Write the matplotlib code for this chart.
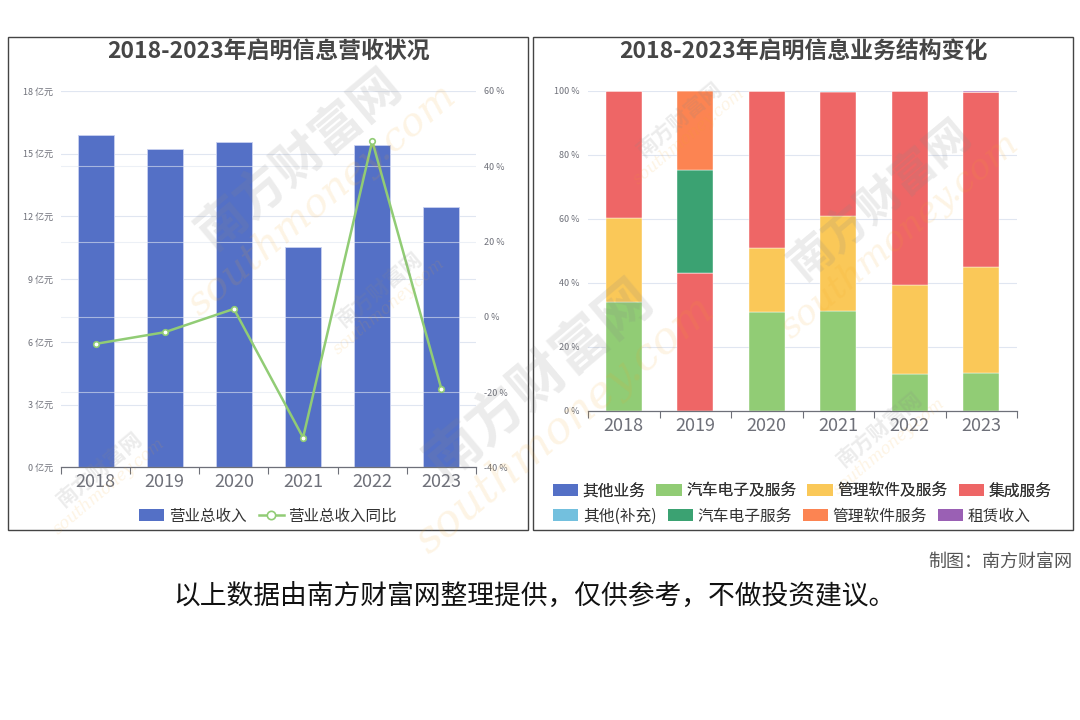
import numpy as np
import matplotlib
matplotlib.use("Agg")
import matplotlib.pyplot as plt
from matplotlib.patches import Rectangle
from matplotlib.lines import Line2D

plt.rcParams['font.family'] = ['Noto Sans CJK SC', 'DejaVu Sans']

# ---- data ------------------------------------------------------------------
years = ["2018", "2019", "2020", "2021", "2022", "2023"]
revenue = [15.90, 15.23, 15.55, 10.53, 15.42, 12.44]        # 亿元
revenue_yoy = [-7.2, -4.1, 2.1, -32.1, 46.7, -19.2]         # %

seg_names = ["其他业务", "汽车电子及服务", "管理软件及服务", "集成服务",
             "其他(补充)", "汽车电子服务", "管理软件服务", "租赁收入"]
seg_other = [0, 0, 0, 0, 0, 0]
seg_auto = [34.2, 0, 31.0, 31.2, 11.6, 11.8]
seg_soft = [26.0, 0, 19.8, 29.7, 27.9, 33.3]
seg_integ = [39.8, 43.0, 49.2, 38.9, 60.5, 54.7]
seg_other2 = [0, 0, 0, 0.2, 0, 0]
seg_auto2 = [0, 32.4, 0, 0, 0, 0]
seg_soft2 = [0, 24.6, 0, 0, 0, 0]
seg_lease = [0, 0, 0, 0, 0, 0.2]

PALETTE = ["#5470c6", "#91cc75", "#fac858", "#ee6666",
           "#73c0de", "#3ba272", "#fc8452", "#9a60b4"]
AXC = "#6E7079"
GRIDC = "#E0E6F1"
W, H = 1080, 720

def fx(px):
    return px / W

def fy(py):
    return 1 - py / H

fig = plt.figure(figsize=(10.8, 7.2), dpi=100)

# panel frames
for x0, x1 in [(8, 528), (533, 1073)]:
    fig.patches.append(Rectangle((fx(x0), fy(530)), fx(x1) - fx(x0), fy(37) - fy(530),
                                 transform=fig.transFigure, fill=False,
                                 ec="#444444", lw=1.0, zorder=0))

def style_cat_axis(ax, n):
    ax.set_xlim(-0.5, n - 0.5)
    ax.set_xticks(range(n))
    ax.set_xticklabels(years, fontsize=13, color=AXC)
    ax.set_xticks(np.arange(-0.5, n, 1.0), minor=True)
    ax.tick_params(axis="x", which="major", length=0, pad=4)
    ax.tick_params(axis="x", which="minor", length=5, color=AXC, width=0.8)
    for s in ["top", "left", "right"]:
        ax.spines[s].set_visible(False)
    ax.spines["bottom"].set_color(AXC)
    ax.spines["bottom"].set_linewidth(0.9)
    ax.spines["bottom"].set_zorder(5)

# ===========================================================================
# left: revenue + yoy
# ===========================================================================
x = np.arange(len(years))
ax = fig.add_axes([fx(61), fy(467.3), fx(476) - fx(61), fy(91) - fy(467.3)])
ax.bar(x, revenue, width=0.52, color=PALETTE[0], edgecolor="#c9d1f0", lw=0.6, zorder=2)
ax.set_ylim(0, 18)
ax.set_yticks(np.arange(0, 19, 3))
ax.set_yticklabels([f"{v} 亿元" for v in range(0, 19, 3)], fontsize=6.5, color=AXC)
ax.tick_params(axis="y", length=0, pad=6)
ax.grid(axis="y", color=GRIDC, lw=0.8, zorder=0)
ax.set_axisbelow(True)
style_cat_axis(ax, len(years))

ax2 = ax.twinx()
ax2.set_ylim(-40, 60)
ax2.set_yticks(np.arange(-40, 61, 20))
ax2.set_yticklabels([f"{v} %" for v in range(-40, 61, 20)], fontsize=6.5, color=AXC)
ax2.tick_params(axis="y", length=0, pad=6)
ax2.grid(axis="y", color=GRIDC, lw=0.8, alpha=0.6)
for s in ax2.spines.values():
    s.set_visible(False)
ax2.plot(x, revenue_yoy, color=PALETTE[1], lw=1.8, marker="o", ms=4,
         mfc="white", mec=PALETTE[1], mew=1.2, zorder=4)

fig.text(fx(268), fy(52), "2018-2023年启明信息营收状况", ha="center", va="center",
         fontsize=16.5, fontweight="bold", color="#464646")

h_left = [Rectangle((0, 0), 1, 1, fc=PALETTE[0]),
          Line2D([], [], color=PALETTE[1], lw=1.8, marker="o", ms=6,
                 mfc="white", mec=PALETTE[1], mew=1.2)]
fig.legend(h_left, ["营业总收入", "营业总收入同比"], loc="center",
           bbox_to_anchor=(fx(268), fy(516)), ncol=2, frameon=False, fontsize=11.2,
           labelcolor="#333333", handlelength=1.6, handleheight=0.8,
           handletextpad=0.3, columnspacing=0.8)

# ===========================================================================
# right: business structure (100 % stacked)
# ===========================================================================
series = [seg_other, seg_auto, seg_soft, seg_integ,
          seg_other2, seg_auto2, seg_soft2, seg_lease]
bx = fig.add_axes([fx(588), fy(411), fx(1017) - fx(588), fy(91) - fy(411)])
bottom = np.zeros(len(years))
handles = []
for name, vals, col in zip(seg_names, series, PALETTE):
    vals = np.asarray(vals, dtype=float)
    bx.bar(x, vals, width=0.5, bottom=bottom, color=col,
           edgecolor="white", lw=0.3, zorder=2, label=name)
    handles.append(Rectangle((0, 0), 1, 1, fc=col))
    bottom += vals
bx.set_ylim(0, 100)
bx.set_yticks(np.arange(0, 101, 20))
bx.set_yticklabels([f"{v} %" for v in range(0, 101, 20)], fontsize=6.5, color=AXC)
bx.tick_params(axis="y", length=0, pad=6)
bx.grid(axis="y", color=GRIDC, lw=0.8, zorder=0)
bx.set_axisbelow(True)
style_cat_axis(bx, len(years))

fig.text(fx(803), fy(52), "2018-2023年启明信息业务结构变化", ha="center", va="center",
         fontsize=16.5, fontweight="bold", color="#464646")

leg_kw = dict(loc="center", ncol=4, frameon=False, fontsize=11.3, labelcolor="#333333",
              handlelength=1.6, handleheight=0.8, handletextpad=0.3, columnspacing=0.7)
l1 = fig.legend(handles[:4], seg_names[:4], bbox_to_anchor=(fx(802), fy(491)), **leg_kw)
fig.add_artist(l1)
fig.legend(handles[4:], seg_names[4:], bbox_to_anchor=(fx(792), fy(516)), **leg_kw)

# ---- footer ---------------------------------------------------------------
fig.text(fx(1072), fy(562), "制图：南方财富网", ha="right", va="center",
         fontsize=13, color="#555555")
fig.text(fx(534), fy(597), "以上数据由南方财富网整理提供，仅供参考，不做投资建议。",
         ha="center", va="center", fontsize=19.3, color="#111111")

# ---- faint site watermarks --------------------------------------------------
for px, py, size, rot in [(300, 160, 36, 40), (540, 380, 40, 40), (880, 200, 32, 40),
                          (100, 470, 15, 40), (380, 290, 15, 40), (680, 120, 15, 40),
                          (880, 430, 15, 40)]:
    fig.text(fx(px), fy(py), "南方财富网", ha="center", va="center", fontsize=size,
             rotation=rot, color="#888888", alpha=0.16, fontweight="bold", zorder=10)
    fig.text(fx(px + size * 0.6), fy(py + size * 1.1), "southmoney.com", ha="center",
             va="center", fontsize=size * 0.8, rotation=rot, color="#f5a623",
             alpha=0.12, style="italic", family="DejaVu Serif", zorder=10)

fig.savefig("out.png", dpi=100)
